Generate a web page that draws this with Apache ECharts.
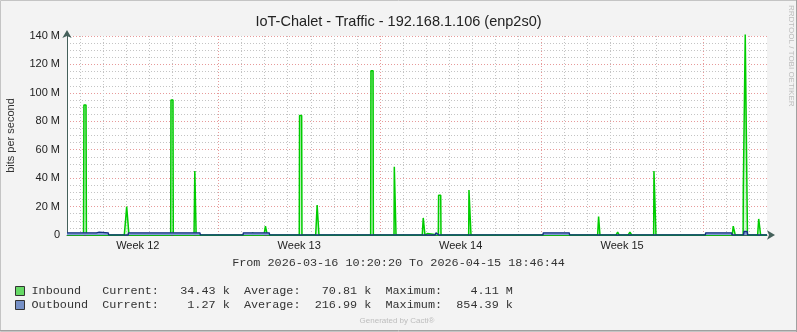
<!DOCTYPE html>
<html><head><meta charset="utf-8">
<script src="https://cdn.jsdelivr.net/npm/echarts@6/dist/echarts.min.js"></script>
<style>html,body{margin:0;padding:0;background:#f3f3f3}#c{width:797px;height:332px}</style>
</head><body><div id="c"></div><script>
const titleText = 'IoT-Chalet - Traffic - 192.168.1.106 (enp2s0)';
const yAxisName = 'bits per second';
const rangeText = 'From 2026-03-16 10:20:20 To 2026-04-15 18:46:44';
const watermark = 'RRDTOOL / TOBI OETIKER';
const footer = 'Generated by Cacti®';
// x values: hours since 2026-03-16 10:20:20 ; y values: Mbit/s
const spanHours = 728.44;
const firstMidnight = 13.661;
const weekStarts = [157.661, 325.661, 493.661, 661.661];
const weekMids = [73.661, 241.661, 409.661, 577.661];
const weekLabels = ['Week 12', 'Week 13', 'Week 14', 'Week 15'];

const inbound = [
  [0,0.1],
  [17.2,0],[17.6,91.5],[19.8,91.5],[20.2,0],
  [59.6,0],[61.1,11.5],[62.1,20],[63.2,20],[64.5,0],
  [107.9,0],[108.2,95],[110.3,95],[110.6,0],
  [132.2,0],[133,45],[134,45],[134.4,0],
  [192.5,0],[193.2,1.8],[194,0],
  [205,0],[206.5,6.3],[207.2,6.3],[208.4,0],
  [210.5,0],[211.3,1],[212.1,0],
  [234.2,0],[235,1],[235.8,0],
  [241.7,0],[242,84],[244.2,84],[244.5,0],
  [258.8,0],[260.3,21],[261,21],[262.2,0],
  [276.3,0],[277.1,1.4],[277.9,0],
  [288.5,0],[289.3,1.4],[290.1,0],
  [316,0],[316.3,115.5],[318.5,115.5],[318.8,0],
  [340.3,0],[340.6,48],[342.1,48],[342.4,0],
  [369.7,0],[370.7,12],[371.5,12],[372.5,0],
  [374.3,0],[375,1],[375.8,0],
  [386.4,0],[386.7,28],[388.9,28],[389.2,0],
  [418,0],[418.3,31.7],[420.1,31.7],[420.4,0],
  [541,0],[541.8,1],[542.6,0],
  [552.2,0],[553.2,13],[553.8,13],[554.6,0],
  [571.3,0],[573,2],[574.7,0],
  [584,0],[585.8,2],[587.6,0],
  [602.4,0],[603.2,1],[604,0],
  [610.5,0],[610.8,45],[612.6,45],[612.9,0],
  [692.3,0],[693.3,6.3],[694.4,6.3],[695.4,0],
  [703.6,0],[703.8,34],[705.6,34],[705.8,141],[707.8,141],[708.1,0],
  [718.7,0],[719.8,11.3],[720.7,11.3],[721.8,0],
  [725.3,0],[726.3,1],[727.4,0],
  [728.44,0.03]
];
const outbound = [
  [0,1.5],[30.5,1.5],[31.5,2],[33.5,2],[34.5,1.5],[43,1.5],[43.3,0],
  [63.6,0],[63.9,1.5],[77.5,1.5],[78.3,2],[79.3,2],[80,1.5],[94.6,1.5],[95.3,2],[96.3,2],[97,1.5],
  [125,1.5],[125.8,2],[126.8,2],[127.5,1.5],[138.4,1.5],[138.7,0],
  [183.2,0],[183.5,1.5],[210.5,1.5],[210.8,0],[215.6,0],[216.4,1],[217.2,0],
  [383,0],[384,1.5],[386,1.5],[387,0],
  [495.3,0],[495.6,1.5],[522.7,1.5],[523,0],
  [664.3,0],[664.6,1.5],[691.7,1.5],[692,0],
  [704,0],[704.5,2.5],[707.8,2.5],[708.3,0],
  [728.44,0.01]
];
const legendNames = ['Inbound', 'Outbound'];
const legendCurrent = ['34.43 k', '1.27 k'];
const legendAverage = ['70.81 k', '216.99 k'];
const legendMaximum = ['4.11 M', '854.39 k'];

const dayTicks = [];
for (let h = firstMidnight; h < spanHours; h += 24) {
  if (!weekStarts.some(w => Math.abs(w - h) < 0.01)) dayTicks.push(h);
}
function legendLine(name) {
  const i = legendNames.indexOf(name);
  return name.padEnd(10) + 'Current:' + legendCurrent[i].padStart(10) +
    '  Average:' + legendAverage[i].padStart(10) + '  Maximum:' + legendMaximum[i].padStart(10);
}
const SANS = 'Liberation Sans';
const MONO = 'Liberation Mono';
const gray = { color: '#c4c4c4', type: [1, 2], width: 1 };
const red = { color: '#e79a9a', type: [1, 2], width: 1 };
const axisCol = '#44605a';

const chart = echarts.init(document.getElementById('c'), null, { renderer: 'canvas' });
chart.setOption({
  backgroundColor: '#f3f3f3',
  animation: false,
  title: {
    text: titleText, left: 'center', top: 14, padding: 0,
    textStyle: { fontFamily: SANS, fontSize: 14.5, fontWeight: 'normal', color: '#222' }
  },
  legend: {
    orient: 'vertical', left: 15, top: 284, padding: 0, itemGap: 0,
    icon: 'rect', itemWidth: 9, itemHeight: 9, selectedMode: false,
    itemStyle: { borderColor: '#333', borderWidth: 1 },
    textStyle: { fontFamily: MONO, fontSize: 11.8, color: '#333', lineHeight: 14, padding: [0, 0, 0, 2] },
    formatter: legendLine,
    data: [
      { name: 'Inbound', itemStyle: { color: '#66d966' } },
      { name: 'Outbound', itemStyle: { color: '#7791c7' } }
    ]
  },
  grid: { left: 67, right: 30, top: 36, bottom: 97, show: true, backgroundColor: '#ffffff', borderWidth: 0,
    containLabel: false, outerBoundsMode: 'none' },
  xAxis: [
    {
      type: 'value', min: 0, max: spanHours, position: 'bottom', z: 3,
      axisLine: { show: true, onZero: false, lineStyle: { color: axisCol, width: 1 },
        symbol: ['none', 'arrow'], symbolSize: [7, 8], symbolOffset: [0, 8] },
      axisTick: { show: false, customValues: weekStarts },
      axisLabel: { customValues: weekMids, margin: 5, fontFamily: SANS, fontSize: 11, color: '#222',
        formatter: v => { let b = 0; weekMids.forEach((m, i) => { if (Math.abs(m - v) < Math.abs(weekMids[b] - v)) b = i; }); return weekLabels[b]; } },
      splitLine: { show: true, lineStyle: red }
    },
    {
      type: 'value', min: 0, max: spanHours, position: 'top', z: 2,
      axisLine: { show: false }, axisLabel: { show: false },
      axisTick: { show: false, customValues: dayTicks },
      splitLine: { show: true, lineStyle: gray }
    }
  ],
  yAxis: {
    type: 'value', min: 0, max: 140, interval: 20,
    name: yAxisName, nameLocation: 'middle', nameGap: 51, nameRotate: 90,
    nameTextStyle: { fontFamily: SANS, fontSize: 11, color: '#333' },
    axisLine: { show: true, lineStyle: { color: axisCol, width: 1 },
      symbol: ['none', 'arrow'], symbolSize: [7, 8], symbolOffset: [0, 6] },
    axisTick: { show: false },
    minorTick: { show: false, splitNumber: 4 },
    minorSplitLine: { show: true, lineStyle: gray },
    splitLine: { show: true, lineStyle: red },
    axisLabel: { margin: 7, fontFamily: SANS, fontSize: 11, color: '#222',
      formatter: v => v === 0 ? '0' : v + ' M' }
  },
  series: [
    {
      name: 'Inbound', type: 'line', xAxisIndex: 0, data: inbound, symbol: 'none', clip: false,
      lineStyle: { color: '#00cc00', width: 1.5 },
      itemStyle: { color: '#66d966' },
      areaStyle: { color: new echarts.graphic.LinearGradient(0, 0, 0, 1, [
        { offset: 0, color: 'rgba(90,215,90,0.75)' }, { offset: 1, color: 'rgba(150,235,150,0.55)' }]) },
      z: 3
    },
    {
      name: 'Outbound', type: 'line', xAxisIndex: 0, data: outbound, symbol: 'none',
      lineStyle: { color: '#14307f', width: 1.4 },
      itemStyle: { color: '#7791c7' },
      areaStyle: { color: '#7f9bd6', opacity: 1 },
      z: 4
    }
  ],
  graphic: [
    { type: 'rect', silent: true, shape: { x: 0.5, y: 0.5, width: 796, height: 331 },
      style: { fill: 'none', stroke: '#c4c4c4', lineWidth: 1 } },
    { type: 'line', silent: true, shape: { x1: 0, y1: 330.5, x2: 797, y2: 330.5 }, style: { stroke: '#a0a0a0', lineWidth: 1 } },
    { type: 'line', silent: true, shape: { x1: 796.5, y1: 0, x2: 796.5, y2: 332 }, style: { stroke: '#a0a0a0', lineWidth: 1 } },
    { type: 'text', silent: true, x: 398.5, y: 263, style: { text: rangeText, fontFamily: MONO, fontSize: 11.8,
      fill: '#333', align: 'center', verticalAlign: 'middle' } },
    { type: 'text', silent: true, x: 397, y: 321, style: { text: footer, fontFamily: SANS, fontSize: 8,
      fill: '#bdbdbd', align: 'center', verticalAlign: 'middle' } },
    { type: 'text', silent: true, x: 791.5, y: 5, rotation: -Math.PI / 2, style: { text: watermark, fontFamily: SANS, fontSize: 8,
      fill: '#bdbdbd', align: 'left', verticalAlign: 'middle' } }
  ]
});
</script></body></html>
